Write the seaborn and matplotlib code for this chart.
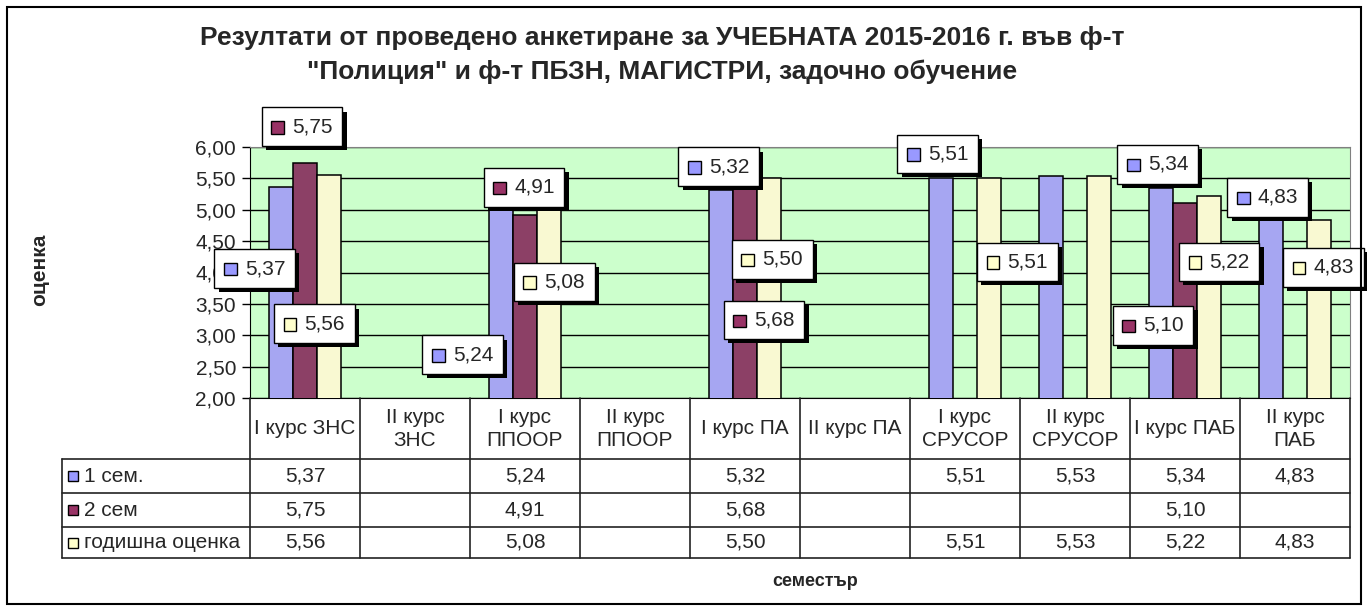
import numpy as np
import pandas as pd
import matplotlib
matplotlib.use("Agg")
import matplotlib.pyplot as plt
import matplotlib.patheffects as pe
from matplotlib.patches import Rectangle
from matplotlib.offsetbox import AnnotationBbox, HPacker, TextArea, DrawingArea
from matplotlib.ticker import FuncFormatter
import seaborn as sns

categories = ["I курс ЗНС", "II курс\nЗНС", "I курс\nППООР", "II курс\nППООР",
              "I курс ПА", "II курс ПА", "I курс\nСРУСОР", "II курс\nСРУСОР",
              "I курс ПАБ", "II курс\nПАБ"]
series = ["1 сем.", "2 сем", "годишна оценка"]
sem1 = [5.37, np.nan, 5.24, np.nan, 5.32, np.nan, 5.51, 5.53, 5.34, 4.83]
sem2 = [5.75, np.nan, 4.91, np.nan, 5.68, np.nan, np.nan, np.nan, 5.10, np.nan]
annual = [5.56, np.nan, 5.08, np.nan, 5.50, np.nan, 5.51, 5.53, 5.22, 4.83]

colors = ["#9999FF", "#993366", "#FFFFCC"]

# label box offsets from bar top, in pixels (series index, category index) -> (dx, dy)
label_offsets = {
    (0, 0): (-26, -82), (1, 0): (-3, 36), (2, 0): (-15, -149),
    (0, 2): (-38, -160), (1, 2): (-1, 28), (2, 2): (5, -77),
    (0, 4): (-2, 23), (1, 4): (19, -153), (2, 4): (3, -81),
    (0, 6): (-3, 24), (2, 6): (28, -84),
    (0, 8): (-3, 24), (1, 8): (-32, -122), (2, 8): (10, -66),
    (0, 9): (-3, 23), (2, 9): (4, -47),
}

df = pd.DataFrame({
    "category": categories * 3,
    "series": [s for s in series for _ in categories],
    "value": sem1 + sem2 + annual,
})

sns.set_style("white")
plt.rcParams["font.family"] = ["Liberation Sans", "DejaVu Sans"]

W, H = 1367, 610
fig = plt.figure(figsize=(W / 100, H / 100), dpi=100)


def px(x0, y0, x1, y1):
    return [x0 / W, 1 - y1 / H, (x1 - x0) / W, (y1 - y0) / H]


ax = fig.add_axes(px(250, 147, 1350, 398))
ax.set_facecolor("#CCFFCC")
sns.barplot(data=df, x="category", y="value", hue="series", order=categories,
            hue_order=series, palette=colors, width=0.66, edgecolor="black",
            linewidth=1.1, errorbar=None, legend=False, ax=ax, zorder=3)
ax.set_ylim(2, 6)
ax.set_xlim(-0.5, len(categories) - 0.5)
ax.set_yticks(np.arange(2, 6.01, 0.5))
ax.yaxis.set_major_formatter(FuncFormatter(lambda v, p: f"{v:.2f}".replace(".", ",")))
ax.tick_params(axis="y", left=True, length=6, width=1, labelsize=15, color="black", pad=4)
ax.tick_params(axis="x", bottom=False, labelbottom=False)
ax.grid(axis="y", color="black", lw=1, zorder=1)
ax.set_axisbelow(True)
ax.set_xlabel("")
ax.set_ylabel("")
for side in ["top", "right"]:
    ax.spines[side].set_color("#808080")
for side in ["left", "bottom"]:
    ax.spines[side].set_color("black")

# data labels
shadow = [pe.withSimplePatchShadow(offset=(3, -3), shadow_rgbFace="black", alpha=1)]
for si, cont in enumerate(ax.containers):
    for bar in cont:
        h = bar.get_height()
        if not np.isfinite(h) or h == 0:
            continue
        xc = bar.get_x() + bar.get_width() / 2
        ci = int(round(xc))
        if (si, ci) not in label_offsets:
            continue
        dx, dy = label_offsets[(si, ci)]
        da = DrawingArea(10, 10, 0, 0)
        da.add_artist(Rectangle((0, 0), 9, 9, fc=colors[si], ec="black", lw=1))
        ta = TextArea(f"{h:.2f}".replace(".", ","), textprops=dict(fontsize=15))
        box = HPacker(children=[da, ta], align="center", pad=5, sep=5)
        ab = AnnotationBbox(box, (xc, h), xybox=(dx, dy), xycoords="data",
                            boxcoords="offset pixels", frameon=True, pad=0.2,
                            annotation_clip=False, zorder=6,
                            bboxprops=dict(ec="black", fc="white", lw=1,
                                           path_effects=shadow))
        ax.add_artist(ab)

# data table
tab = fig.add_axes(px(250, 398, 1350, 558), sharex=ax)
tab.set_ylim(160, 0)
tab.axis("off")
left = -0.5 - (250 - 62) / 110
rows = [61, 95, 129, 160]
for y in rows:
    tab.plot([left, len(categories) - 0.5], [y, y], color="#222222", lw=1.2, clip_on=False)
for i in range(len(categories) + 1):
    tab.plot([i - 0.5, i - 0.5], [0, 160], color="#222222", lw=1.2, clip_on=False)
tab.plot([left, left], [61, 160], color="#222222", lw=1.2, clip_on=False)

for i, cat in enumerate(categories):
    tab.text(i, 31, cat, ha="center", va="center", fontsize=15, linespacing=1.3)
for si, vals in enumerate([sem1, sem2, annual]):
    yc = (rows[si] + rows[si + 1]) / 2
    for i, v in enumerate(vals):
        if np.isfinite(v):
            tab.text(i, yc, f"{v:.2f}".replace(".", ","), ha="center", va="center", fontsize=15)
    tab.add_patch(Rectangle((left + 0.055, yc - 5), 0.09, 10, fc=colors[si], ec="black",
                            lw=1, clip_on=False))
    tab.text(left + 0.2, yc, series[si], ha="left", va="center", fontsize=15)

fig.text(662 / W, 1 - 55 / H,
         "Резултати от проведено анкетиране за УЧЕБНАТА 2015-2016 г. във ф-т\n"
         "\"Полиция\" и ф-т ПБЗН, МАГИСТРИ, задочно обучение",
         ha="center", va="center", fontsize=19, fontweight="bold", linespacing=1.5)
fig.text(40 / W, 1 - 270 / H, "оценка", rotation=90, ha="center", va="center",
         fontsize=15, fontweight="bold")
fig.text(815 / W, 1 - 582 / H, "семестър", ha="center", va="center",
         fontsize=13, fontweight="bold")

fig.add_artist(Rectangle((7 / W, 6 / H), (1361 - 7) / W, (603 - 6) / H,
                         transform=fig.transFigure, fill=False, ec="black", lw=1.5))

fig.savefig("out.png", dpi=100)
